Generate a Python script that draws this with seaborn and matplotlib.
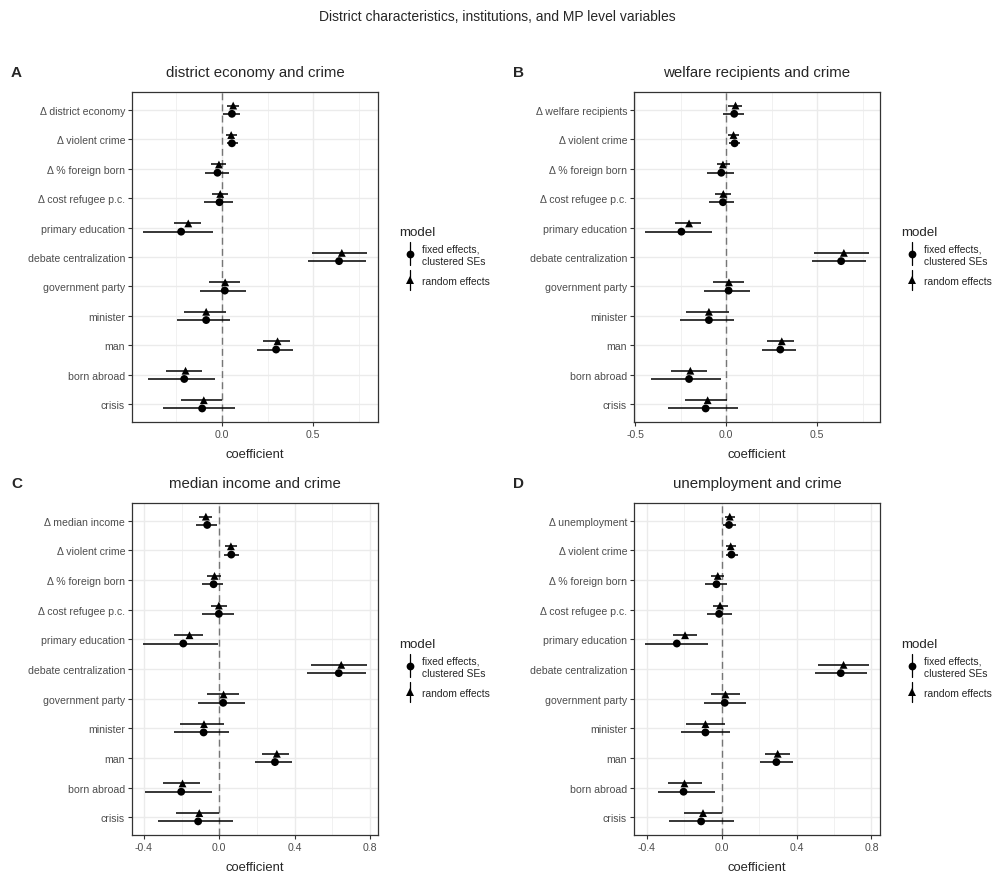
import numpy as np
import pandas as pd
import matplotlib
matplotlib.use("Agg")
import matplotlib.pyplot as plt
from matplotlib.lines import Line2D
from matplotlib.ticker import FixedLocator
import seaborn as sns

sns.set_theme(style="whitegrid")
plt.rcParams["font.family"] = ["Liberation Sans", "DejaVu Sans"]

# ---------------------------------------------------------------- data
common_terms = ["Δ violent crime", "Δ % foreign born", "Δ cost refugee p.c.",
                "primary education", "debate centralization", "government party",
                "minister", "man", "born abroad", "crisis"]
model_names = ["fixed effects,\nclustered SEs", "random effects"]

# A: district economy and crime
a_terms = ["Δ district economy"] + common_terms
a_fe = [0.055, 0.055, -0.024, -0.013, -0.223, 0.642, 0.016, -0.086, 0.297, -0.206, -0.108]
a_fe_lo = [0.004, 0.027, -0.095, -0.097, -0.431, 0.474, -0.119, -0.246, 0.193, -0.405, -0.321]
a_fe_hi = [0.099, 0.091, 0.038, 0.060, -0.046, 0.788, 0.130, 0.047, 0.387, -0.036, 0.071]
a_re = [0.062, 0.051, -0.016, -0.009, -0.184, 0.657, 0.018, -0.086, 0.305, -0.199, -0.099]
a_re_lo = [0.026, 0.020, -0.058, -0.053, -0.263, 0.495, -0.073, -0.210, 0.226, -0.305, -0.226]
a_re_hi = [0.093, 0.082, 0.024, 0.033, -0.117, 0.794, 0.097, 0.020, 0.374, -0.109, 0.002]

# B: welfare recipients and crime
b_terms = ["Δ welfare recipients"] + common_terms
b_fe = [0.044, 0.046, -0.027, -0.018, -0.246, 0.631, 0.013, -0.095, 0.297, -0.204, -0.113]
b_fe_lo = [-0.018, 0.016, -0.106, -0.093, -0.445, 0.469, -0.122, -0.255, 0.195, -0.411, -0.319]
b_fe_hi = [0.095, 0.078, 0.040, 0.044, -0.078, 0.770, 0.128, 0.044, 0.381, -0.031, 0.062]
b_re = [0.051, 0.040, -0.018, -0.016, -0.204, 0.646, 0.015, -0.095, 0.305, -0.197, -0.102]
b_re_lo = [0.011, 0.009, -0.051, -0.060, -0.281, 0.482, -0.075, -0.219, 0.224, -0.303, -0.226]
b_re_hi = [0.084, 0.068, 0.018, 0.024, -0.137, 0.783, 0.095, 0.013, 0.374, -0.108, 0.002]

# C: median income and crime
c_terms = ["Δ median income"] + common_terms
c_fe = [-0.064, 0.064, -0.030, -0.002, -0.191, 0.635, 0.021, -0.083, 0.296, -0.202, -0.112]
c_fe_lo = [-0.124, 0.027, -0.090, -0.092, -0.404, 0.465, -0.112, -0.239, 0.189, -0.395, -0.327]
c_fe_hi = [-0.012, 0.103, 0.021, 0.076, -0.009, 0.782, 0.135, 0.050, 0.389, -0.039, 0.071]
c_re = [-0.071, 0.062, -0.025, -0.002, -0.158, 0.648, 0.023, -0.081, 0.306, -0.195, -0.106]
c_re_lo = [-0.106, 0.032, -0.064, -0.046, -0.239, 0.488, -0.067, -0.207, 0.228, -0.299, -0.230]
c_re_hi = [-0.037, 0.094, 0.012, 0.042, -0.088, 0.784, 0.103, 0.023, 0.373, -0.104, -0.002]

# D: unemployment and crime
d_terms = ["Δ unemployment"] + common_terms
d_fe = [0.039, 0.052, -0.028, -0.014, -0.240, 0.636, 0.016, -0.087, 0.292, -0.204, -0.110]
d_fe_lo = [0.005, 0.023, -0.089, -0.080, -0.409, 0.500, -0.094, -0.220, 0.206, -0.338, -0.284]
d_fe_hi = [0.075, 0.087, 0.030, 0.055, -0.073, 0.775, 0.128, 0.044, 0.380, -0.036, 0.066]
d_re = [0.043, 0.048, -0.021, -0.009, -0.196, 0.651, 0.020, -0.087, 0.299, -0.199, -0.100]
d_re_lo = [0.018, 0.021, -0.055, -0.046, -0.263, 0.516, -0.057, -0.192, 0.233, -0.286, -0.203]
d_re_hi = [0.069, 0.076, 0.014, 0.032, -0.130, 0.786, 0.096, 0.016, 0.366, -0.108, 0.004]

ticks_ab = [-0.5, 0.0, 0.5]
tick_labels_ab = ["-0.5", "0.0", "0.5"]
ticks_cd = [-0.4, 0.0, 0.4, 0.8]
tick_labels_cd = ["-0.4", "0.0", "0.4", "0.8"]

panels = [
    ("A", "district economy and crime", a_terms,
     (a_fe, a_fe_lo, a_fe_hi), (a_re, a_re_lo, a_re_hi), ticks_ab, tick_labels_ab),
    ("B", "welfare recipients and crime", b_terms,
     (b_fe, b_fe_lo, b_fe_hi), (b_re, b_re_lo, b_re_hi), ticks_ab, tick_labels_ab),
    ("C", "median income and crime", c_terms,
     (c_fe, c_fe_lo, c_fe_hi), (c_re, c_re_lo, c_re_hi), ticks_cd, tick_labels_cd),
    ("D", "unemployment and crime", d_terms,
     (d_fe, d_fe_lo, d_fe_hi), (d_re, d_re_lo, d_re_hi), ticks_cd, tick_labels_cd),
]

# ---------------------------------------------------------------- layout
W, H = 995, 878
fig = plt.figure(figsize=(W / 100, H / 100), dpi=100)
fig.patch.set_facecolor("white")

# axes boxes in pixels: left, top, right, bottom
boxes = [(132, 93, 378, 423), (634, 93, 880, 423),
         (132, 504, 378, 836), (634, 504, 880, 836)]


def fx(x):
    return x / W


def fy(y):
    return 1 - y / H


GRID = "#EBEBEB"
INK = "#333333"
TICKTXT = "#4D4D4D"
DODGE = 0.14


def draw_panel(ax, terms, fe, re, ticks, tick_labels):
    n = len(terms)
    rows = []
    for name, (est, lo, hi), shift in ((model_names[0], fe, -DODGE),
                                       (model_names[1], re, DODGE)):
        for i, term in enumerate(terms):
            rows.append(dict(term=term, model=name, est=est[i], lo=lo[i], hi=hi[i],
                             pos=(n - 1 - i) + shift))
    df = pd.DataFrame(rows)

    ax.axvline(0, color="#767676", lw=1.0, ls=(0, (5, 3)), zorder=1.5)
    ax.hlines(df["pos"], df["lo"], df["hi"], color="black", lw=1.1, zorder=2)
    sns.scatterplot(data=df, x="est", y="pos", style="model",
                    markers={model_names[0]: "o", model_names[1]: "^"},
                    color="black", s=32, linewidth=0, legend=False, ax=ax, zorder=3)

    # ticks first, then the ranges (5% margin on x, 0.6 of a row on y)
    ax.set_xticks(ticks)
    ax.set_xticklabels(tick_labels)
    step = ticks[1] - ticks[0]
    minors = [t + step / 2 for t in [ticks[0] - step] + list(ticks)]
    ax.xaxis.set_minor_locator(FixedLocator(minors))
    ax.set_yticks(range(n))
    ax.set_yticklabels(terms[::-1])

    xmin, xmax = df["lo"].min(), df["hi"].max()
    pad = 0.05 * (xmax - xmin)
    ax.set_xlim(xmin - pad, xmax + pad)
    ax.set_ylim(-0.6, n - 1 + 0.6)

    ax.set_facecolor("white")
    ax.grid(False)
    ax.grid(which="major", axis="both", color=GRID, lw=1.0, zorder=0)
    ax.grid(which="minor", axis="x", color=GRID, lw=0.5, zorder=0)
    ax.set_axisbelow(True)
    for sp in ax.spines.values():
        sp.set_color(INK)
        sp.set_linewidth(0.9)
        sp.set_visible(True)
    ax.tick_params(axis="both", which="major", length=3, width=0.8, color=INK,
                   labelsize=7.6, labelcolor=TICKTXT, pad=2, bottom=True, left=True)
    ax.tick_params(axis="both", which="minor", length=0)
    ax.set_xlabel("")
    ax.set_ylabel("")


def draw_key(x, y_dot, y0, y1, marker, ms):
    fig.add_artist(Line2D([fx(x), fx(x)], [fy(y0), fy(y1)], color="black", lw=0.9,
                          transform=fig.transFigure))
    fig.add_artist(Line2D([fx(x)], [fy(y_dot)], marker=marker, color="black",
                          markersize=ms, markeredgewidth=0, linestyle="none",
                          transform=fig.transFigure))


for (letter, title, terms, fe, re, ticks, labels), (l, t, r, b) in zip(panels, boxes):
    ax = fig.add_axes([fx(l), fy(b), (r - l) / W, (b - t) / H])
    draw_panel(ax, terms, fe, re, ticks, labels)

    # panel letter, subtitle and x-axis title
    fig.text(fx(l - 121), fy(t - 20), letter, fontsize=11, fontweight="bold",
             ha="left", va="center")
    fig.text(fx((l + r) / 2), fy(t - 20), title, fontsize=10.8, ha="center", va="center")
    fig.text(fx((l + r) / 2), fy(b + 32), "coefficient", fontsize=9.4,
             ha="center", va="center")

    # legend to the right of each panel
    c = (t + b) / 2
    lx = r + 21
    fig.text(fx(lx), fy(c - 25), "model", fontsize=9.6, ha="left", va="center")
    draw_key(r + 32, c - 3, c - 15, c + 8, "o", 5.6)
    fig.text(fx(r + 44), fy(c - 2), model_names[0], fontsize=7.4, ha="left",
             va="center", linespacing=1.25)
    draw_key(r + 32, c + 23, c + 13, c + 33, "^", 6.0)
    fig.text(fx(r + 44), fy(c + 24), model_names[1], fontsize=7.4, ha="left",
             va="center")

fig.text(0.5, fy(17), "District characteristics, institutions, and MP level variables",
         fontsize=10.0, ha="center", va="center")

fig.savefig("out.png", dpi=100, facecolor="white")
